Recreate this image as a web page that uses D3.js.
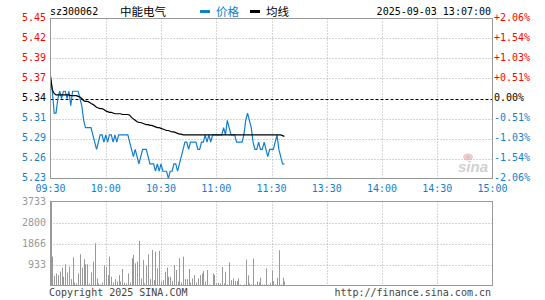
<!DOCTYPE html>
<html><head><meta charset="utf-8">
<script src="https://cdn.jsdelivr.net/npm/d3@7"></script>
<style>body{margin:0;background:#fff} svg{display:block}</style>
</head><body>
<svg id="c" width="545" height="300"></svg>
<script>
const stockCode = "sz300062";
const stockName = "中能电气";
const legendNames = ["价格", "均线"];
const stamp = "2025-09-03 13:07:00";
const footLeft = "Copyright 2025 SINA.COM";
const footRight = "http://finance.sina.com.cn";
const preClose = 5.34;
const priceRange = [5.23, 5.45];
const priceTicks = ["5.45","5.42","5.39","5.37","5.34","5.31","5.29","5.26","5.23"];
const pctTicks = ["+2.06%","+1.54%","+1.03%","+0.51%","0.00%","-0.51%","-1.03%","-1.54%","-2.06%"];
const timeTicks = ["09:30","10:00","10:30","11:00","11:30","13:30","14:00","14:30","15:00"];
const volMax = 3733;
const volTicks = ["3733","2800","1866","933"];

// per-minute price (09:30 .. 11:30, then 13:01 .. 13:07)
const prices = [
5.37,5.35,5.32,5.32,5.34,5.35,5.34,5.35,5.35,5.34,
5.35,5.33,5.35,5.35,5.35,5.35,5.34,5.33,5.31,5.30,
5.30,5.30,5.30,5.29,5.28,5.27,5.28,5.29,5.29,5.28,
5.29,5.28,5.29,5.29,5.28,5.29,5.28,5.29,5.29,5.29,
5.29,5.29,5.29,5.28,5.27,5.26,5.27,5.26,5.25,5.26,
5.27,5.27,5.27,5.26,5.25,5.25,5.25,5.24,5.25,5.24,
5.25,5.24,5.24,5.24,5.23,5.24,5.24,5.25,5.25,5.24,
5.25,5.26,5.27,5.28,5.28,5.27,5.28,5.28,5.28,5.28,
5.27,5.27,5.28,5.28,5.29,5.28,5.29,5.28,5.29,5.29,
5.29,5.29,5.29,5.29,5.30,5.29,5.31,5.30,5.29,5.29,
5.29,5.28,5.28,5.28,5.28,5.29,5.31,5.32,5.31,5.30,
5.28,5.27,5.27,5.28,5.27,5.27,5.28,5.27,5.26,5.27,
5.27,5.27,5.28,5.29,5.27,5.26,5.25,5.25];

const avgPrices = [
5.370,5.352,5.347,5.345,5.345,5.345,5.345,5.345,5.345,5.345,
5.345,5.344,5.344,5.344,5.344,5.343,5.342,5.340,5.337,5.336,
5.336,5.335,5.333,5.332,5.330,5.328,5.327,5.326,5.326,5.325,
5.323,5.322,5.321,5.321,5.320,5.319,5.319,5.319,5.319,5.318,
5.318,5.318,5.318,5.317,5.314,5.312,5.310,5.308,5.307,5.307,
5.306,5.305,5.304,5.304,5.303,5.303,5.302,5.301,5.300,5.300,
5.299,5.298,5.297,5.296,5.296,5.295,5.294,5.294,5.293,5.292,
5.291,5.291,5.290,5.290,5.290,5.290,5.290,5.290,5.290,5.290,
5.290,5.290,5.290,5.290,5.290,5.290,5.290,5.290,5.290,5.290,
5.290,5.290,5.290,5.290,5.290,5.290,5.290,5.290,5.290,5.290,
5.290,5.290,5.290,5.290,5.290,5.290,5.290,5.290,5.290,5.290,
5.290,5.290,5.290,5.290,5.290,5.290,5.290,5.290,5.290,5.290,
5.290,5.290,5.290,5.290,5.290,5.290,5.289,5.288];

const volumes = [
3733,1285,433,538,463,613,792,388,941,582,
836,284,1254,134,90,538,1389,792,1165,941,
941,90,582,1060,1882,314,90,45,134,881,
836,463,1285,388,134,284,179,463,179,732,
134,90,538,134,1210,1359,986,1060,1986,314,
1135,90,881,1389,284,1583,239,1508,762,1538,
179,239,613,792,388,388,194,911,687,179,
1210,134,1285,284,284,732,134,314,463,134,
314,463,538,642,179,687,45,15,538,463,
90,120,90,821,90,613,45,1031,239,314,
194,194,314,45,15,45,1150,448,90,45,
1195,45,179,134,344,45,45,762,45,105,
672,194,45,344,1568,45,344,179];

const blue = "#117fcf", red = "#ff0000", gray = "#999";
const mono = "'DejaVu Sans Mono', 'Liberation Mono', monospace";
const cjk = "'Noto Sans CJK SC', sans-serif";

const svg = d3.select("#c");
const L = 50.5, R = 492.5, T = 18.5, B = 178.5, VT = 201.5, VB = 285.5;

const x = d3.scaleLinear().domain([0, 240]).range([L, R]);
const y = d3.scaleLinear().domain(priceRange).range([B, T]);
const yv = d3.scaleLinear().domain([0, volMax]).range([VB, VT]);

const tickStep = (priceRange[1] - priceRange[0]) / (priceTicks.length - 1);
const tickVals = priceTicks.map((_, i) => priceRange[1] - i * tickStep);
const timeVals = timeTicks.map((_, i) => i * 30);

// header
svg.append("text").attr("x", 50).attr("y", 15).attr("font-family", mono).attr("font-size", 10)
  .attr("fill", "#000").text(stockCode);
svg.append("text").attr("x", 120).attr("y", 16).attr("font-family", cjk).attr("font-size", 11.5)
  .attr("fill", "#000").text(stockName);
svg.append("rect").attr("x", 200).attr("y", 10).attr("width", 10).attr("height", 3).attr("fill", blue);
svg.append("text").attr("x", 216).attr("y", 16).attr("font-family", cjk).attr("font-size", 11.5)
  .attr("fill", blue).text(legendNames[0]);
svg.append("rect").attr("x", 250).attr("y", 10).attr("width", 10).attr("height", 3).attr("fill", "#000");
svg.append("text").attr("x", 266).attr("y", 16).attr("font-family", cjk).attr("font-size", 11.5)
  .attr("fill", "#000").text(legendNames[1]);
svg.append("text").attr("x", 491).attr("y", 15).attr("text-anchor", "end").attr("font-family", mono)
  .attr("font-size", 10).attr("fill", "#000").text(stamp);

// watermark
const wm = svg.append("g").attr("opacity", 0.55);
wm.append("ellipse").attr("cx", 468).attr("cy", 157).attr("rx", 5).attr("ry", 3.5).attr("fill", "#e8a0a0");
wm.append("circle").attr("cx", 468).attr("cy", 157).attr("r", 1.6).attr("fill", "#999");
wm.append("text").attr("x", 458).attr("y", 172).attr("font-family", "'Liberation Sans', Arial, sans-serif")
  .attr("font-size", 15).attr("font-style", "italic").attr("font-weight", "bold").attr("fill", "#aaa").text("sina");

// price grid
const g = svg.append("g");
tickVals.forEach((v, i) => {
  if (i === 0 || i === tickVals.length - 1) return;
  const yy = Math.round(y(v)) + 0.5;
  if (priceTicks[i] === preClose.toFixed(2)) return;
  g.append("line").attr("x1", L).attr("x2", R).attr("y1", yy).attr("y2", yy)
    .attr("stroke", "#aaa").attr("stroke-dasharray", "1,2");
});
timeVals.forEach((t, i) => {
  if (i === 0 || i === timeVals.length - 1) return;
  const xx = Math.round(x(t)) + 0.5;
  g.append("line").attr("x1", xx).attr("x2", xx).attr("y1", T).attr("y2", B)
    .attr("stroke", "#aaa").attr("stroke-dasharray", "1,2");
  g.append("line").attr("x1", xx).attr("x2", xx).attr("y1", VT).attr("y2", VB)
    .attr("stroke", "#aaa").attr("stroke-dasharray", "1,2");
});
const pcY = Math.round(y(preClose)) + 0.5;
g.append("line").attr("x1", L).attr("x2", R).attr("y1", pcY).attr("y2", pcY)
  .attr("stroke", "#000").attr("stroke-dasharray", "3,2");

// price labels
const colorFor = i => i < 4 ? red : (i === 4 ? "#000" : blue);
priceTicks.forEach((s, i) => {
  const yy = y(tickVals[i]);
  svg.append("text").attr("x", 46).attr("y", yy + 2.5).attr("text-anchor", "end")
    .attr("font-family", mono).attr("font-size", 10).attr("fill", colorFor(i)).text(s);
  svg.append("text").attr("x", 494).attr("y", yy + 2.5).attr("text-anchor", "start")
    .attr("font-family", mono).attr("font-size", 10).attr("fill", colorFor(i)).text(pctTicks[i]);
});
timeTicks.forEach((s, i) => {
  svg.append("text").attr("x", x(timeVals[i])).attr("y", 192).attr("text-anchor", "middle")
    .attr("font-family", mono).attr("font-size", 10).attr("fill", blue).text(s);
});

// volume grid + labels
volTicks.forEach((s, i) => {
  const v = volMax * (volTicks.length - i) / volTicks.length;
  const yy = Math.round(yv(v)) + 0.5;
  if (i > 0) g.append("line").attr("x1", L).attr("x2", R).attr("y1", yy).attr("y2", yy)
    .attr("stroke", "#aaa").attr("stroke-dasharray", "1,2");
  svg.append("text").attr("x", 46).attr("y", yy + 2.5).attr("text-anchor", "end")
    .attr("font-family", mono).attr("font-size", 10).attr("fill", gray).text(s);
});

// volume bars
svg.append("g").selectAll("line").data(volumes).join("line")
  .attr("x1", (d, i) => Math.round(x(i)) + 0.5).attr("x2", (d, i) => Math.round(x(i)) + 0.5)
  .attr("y1", VB).attr("y2", d => yv(d)).attr("stroke", gray).attr("stroke-width", 1);

// lines
const line = d3.line().x((d, i) => x(i)).y(d => y(d)).curve(d3.curveLinear);
svg.append("path").datum(prices).attr("d", line).attr("fill", "none")
  .attr("stroke", blue).attr("stroke-width", 1.2);
svg.append("path").datum(avgPrices).attr("d", line).attr("fill", "none")
  .attr("stroke", "#000").attr("stroke-width", 1.2);

// frames
svg.append("rect").attr("x", L).attr("y", T).attr("width", R - L).attr("height", B - T)
  .attr("fill", "none").attr("stroke", gray);
svg.append("rect").attr("x", L).attr("y", VT).attr("width", R - L).attr("height", VB - VT)
  .attr("fill", "none").attr("stroke", gray);

// footer
svg.append("text").attr("x", 49).attr("y", 296).attr("font-family", mono).attr("font-size", 10)
  .attr("fill", "#444").text(footLeft);
svg.append("text").attr("x", 491).attr("y", 296).attr("text-anchor", "end").attr("font-family", mono)
  .attr("font-size", 10).attr("fill", "#444").text(footRight);
</script>
</body></html>
